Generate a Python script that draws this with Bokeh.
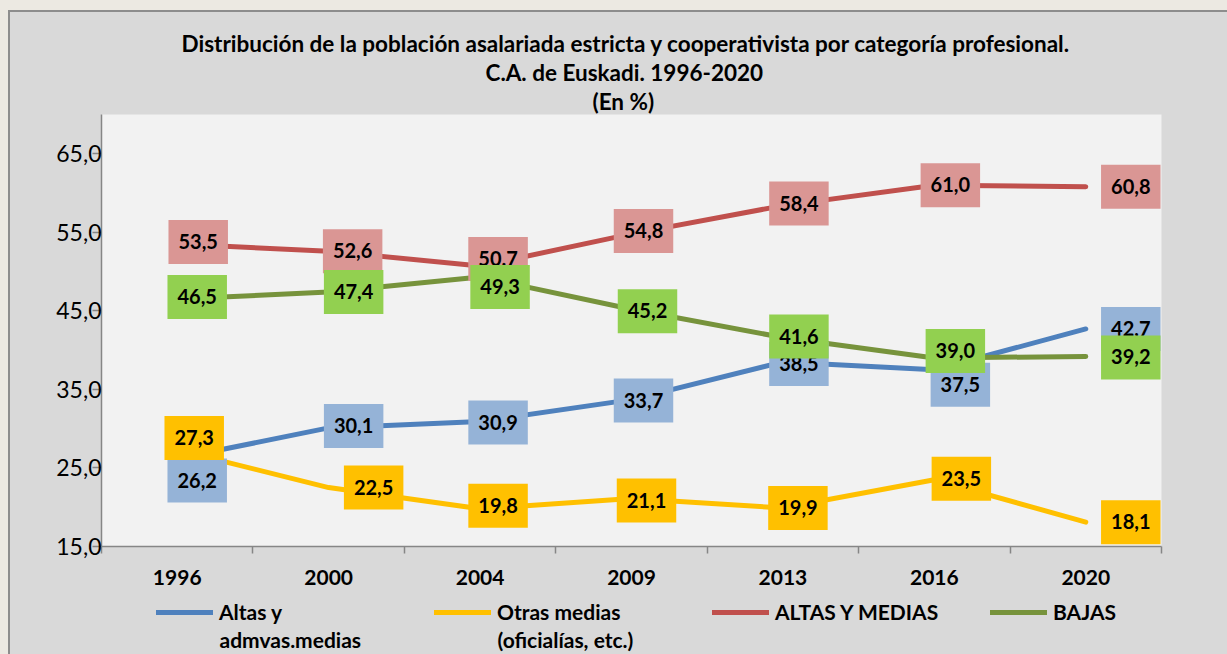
from bokeh.plotting import figure
from bokeh.layouts import column
from bokeh.models import FixedTicker, Legend, LegendItem, Title, ColumnDataSource
from bokeh.core.properties import value
from bokeh.embed import file_html
from bokeh.resources import INLINE

# ---------------- data ----------------
years = ["1996", "2000", "2004", "2009", "2013", "2016", "2020"]
altas_admvas = [26.2, 30.1, 30.9, 33.7, 38.5, 37.5, 42.7]
otras_medias = [27.3, 22.5, 19.8, 21.1, 19.9, 23.5, 18.1]
altas_medias = [53.5, 52.6, 50.7, 54.8, 58.4, 61.0, 60.8]
bajas = [46.5, 47.4, 49.3, 45.2, 41.6, 39.0, 39.2]
altas_medias_labels = ["53,5", "52,6", "50.7", "54,8", "58,4", "61,0", "60,8"]
y_ticks = [15, 25, 35, 45, 55, 65]
legend_first = ["Altas y", "Otras medias", "ALTAS Y MEDIAS", "BAJAS"]
legend_second = ["admvas.medias", "(oficialías, etc.)"]
title_lines = [
    "Distribución de la población asalariada estricta y cooperativista por categoría profesional.",
    "C.A. de Euskadi. 1996-2020",
    "(En %)",
]


def fmt(v):
    return f"{v:.1f}".replace(".", ",")


# ---------------- styling ----------------
FONT = "Lato"
W, H = 1227, 654
H_MAIN = 600
LEFT, RIGHT, TOP, BOTTOM = 101, 66, 114, H_MAIN - 546
line_colors = ["#4F81BD", "#FFC000", "#C0504D", "#77933C"]
box_colors = ["#95B3D7", "#FFC000", "#DA9694", "#92D050"]
title_offsets = [80, 384, 491]  # left offsets (px) so the block is centred on the chart box
# pixel nudges of the (manually placed) data labels
dx = [
    [20, 25, 18, 12, 16, 26, 45],
    [17, 45, 18, 15, 15, 27, 45],
    [21, 24, 18, 12, 16, 16, 45],
    [20, 25, 20, 16, 16, 21, 45],
]
dy = [
    [22, -2, 1, 1, 2, 15, 0],
    [-12, 0, -3, 2, 0, -1, 0],
    [-2, 0, -7, -3, -2, 0, 0],
    [-2, 0, 10, 2, -1, -7, 1],
]
BORDER = "#8D8D8D"
GREY = "#D9D9D9"
PAGE = "#ECE9E2"

xs = [i + 0.5 for i in range(len(years))]

p = figure(
    width=W, height=H_MAIN,
    x_range=(0, len(years)), y_range=(15, 70),
    output_backend="svg", toolbar_location=None,
    min_border_left=LEFT, min_border_right=RIGHT,
    min_border_top=TOP, min_border_bottom=BOTTOM,
    styles={
        "background": (
            f"linear-gradient({BORDER},{BORDER}) 8px 10px / 100% 2px no-repeat,"
            f"linear-gradient({BORDER},{BORDER}) 8px 10px / 2px 100% no-repeat,"
            f"linear-gradient({GREY},{GREY}) 10px 12px / 100% 100% no-repeat,"
            f"{PAGE}"
        )
    },
)
p.background_fill_color = "#F2F2F2"
p.border_fill_alpha = 0
p.outline_line_color = None
p.xgrid.visible = False
p.ygrid.visible = False

# titles: the first one added sits closest to the plot
p.title.text = ""
title_style = dict(align="left", text_font=FONT, text_font_style="bold",
                   text_font_size="22.5px", text_color="black", standoff=0,
                   text_line_height=1.1)
for line, off in reversed(list(zip(title_lines, title_offsets))):
    p.add_layout(Title(text=line, offset=off, **title_style), "above")

AX = "#868686"
# x axis: labels at category centres, ticks at category boundaries
p.xaxis.ticker = FixedTicker(ticks=xs, minor_ticks=list(range(len(years) + 1)))
p.xaxis.major_label_overrides = {x: y for x, y in zip(xs, years)}
p.xaxis.major_tick_out = 0
p.xaxis.major_tick_in = 0
p.xaxis.minor_tick_out = 7
p.xaxis.minor_tick_in = 0
p.xaxis.minor_tick_line_color = AX
p.xaxis.axis_line_color = AX
p.xaxis.axis_line_width = 1.5
p.xaxis.minor_tick_line_width = 1.5
p.xaxis.major_label_text_font = FONT
p.xaxis.major_label_text_font_style = "bold"
p.xaxis.major_label_text_font_size = "21px"
p.xaxis.major_label_text_color = "black"
p.xaxis.major_label_standoff = 16

p.yaxis.ticker = FixedTicker(ticks=y_ticks)
p.yaxis.major_label_overrides = {t: fmt(t) for t in y_ticks}
p.yaxis.major_tick_out = 9
p.yaxis.major_tick_in = 0
p.yaxis.minor_tick_line_color = None
p.yaxis.major_tick_line_color = AX
p.yaxis.major_tick_line_width = 1.5
p.yaxis.axis_line_color = AX
p.yaxis.axis_line_width = 1.5
p.yaxis.major_label_text_font = FONT
p.yaxis.major_label_text_font_size = "23px"
p.yaxis.major_label_text_color = "black"
p.yaxis.major_label_standoff = -9

series = [altas_admvas, otras_medias, altas_medias, bajas]
labels = [
    [fmt(v) for v in altas_admvas],
    [fmt(v) for v in otras_medias],
    altas_medias_labels,
    [fmt(v) for v in bajas],
]

line_style = dict(line_width=5, line_cap="round", line_join="round")
for vals, col in zip(series, line_colors):
    p.line(xs, vals, line_color=col, **line_style)

for vals, labs, fill, ox, oy in zip(series, labels, box_colors, dx, dy):
    src = ColumnDataSource(dict(x=xs, y=vals, t=labs, ox=ox, oy=oy))
    p.text(
        x="x", y="y", text="t", source=src, x_offset="ox", y_offset="oy",
        text_align="center", text_baseline="middle",
        text_font=value(FONT), text_font_style="bold", text_font_size="20px",
        text_color="black", background_fill_color=fill,
        padding=dict(top=14, right=10, bottom=15, left=10),
    )

# ---------------- legend strip (pixel coordinates, y measured from its top) ----------------
HL = H - H_MAIN
leg = figure(
    width=W, height=HL, x_range=(LEFT, W - RIGHT), y_range=(HL, 0),
    x_axis_location=None, y_axis_location=None,
    output_backend="svg", toolbar_location=None,
    min_border_left=LEFT, min_border_right=RIGHT, min_border_top=0, min_border_bottom=0,
    styles={
        "background": (
            f"linear-gradient({BORDER},{BORDER}) 8px 0 / 2px 100% no-repeat,"
            f"linear-gradient({GREY},{GREY}) 10px 0 / 100% 100% no-repeat,"
            f"{PAGE}"
        )
    },
)
leg.title.text = ""
leg.background_fill_alpha = 0
leg.border_fill_alpha = 0
leg.outline_line_color = None
leg.xgrid.visible = False
leg.ygrid.visible = False

nan = float("nan")
leg_renderers = [leg.line(x=[nan, nan], y=[nan, nan], line_color=c, **line_style) for c in line_colors]
legend = Legend(
    items=[LegendItem(label=l, renderers=[r]) for l, r in zip(legend_first, leg_renderers)],
    orientation="horizontal", location=(55, 30),
    glyph_width=57, glyph_height=20, label_standoff=6, label_width=210, spacing=5,
    padding=0, margin=0, background_fill_alpha=0, border_line_color=None,
    label_text_font=FONT, label_text_font_style="bold", label_text_font_size="21px",
    label_text_color="black",
)
leg.add_layout(legend)
leg.text(
    x=[219, 497], y=[39, 39], text=legend_second,
    text_align="left", text_baseline="middle",
    text_font=value(FONT), text_font_style="bold", text_font_size="21px",
    text_color="black",
)

layout = column(p, leg, spacing=0)
html = file_html(layout, INLINE)
open("out.html", "w").write(html)
